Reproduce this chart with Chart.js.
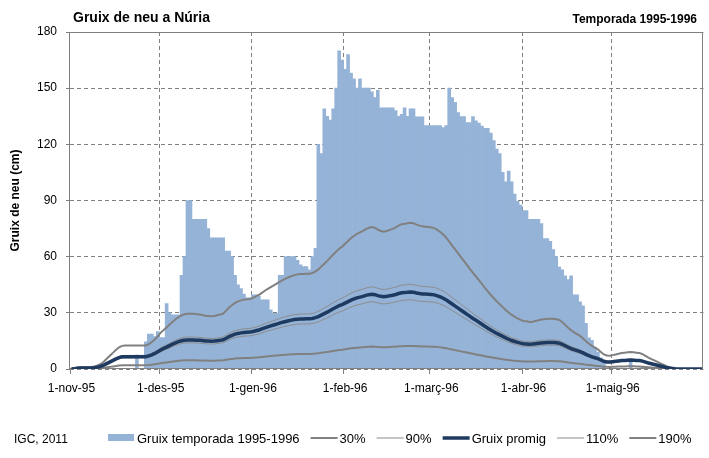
<!DOCTYPE html>
<html>
<head>
<meta charset="utf-8">
<script src="https://cdn.jsdelivr.net/npm/chart.js@4.4.1/dist/chart.umd.min.js"></script>
<style>
  html, body { margin: 0; padding: 0; background: #fff; }
</style>
</head>
<body>
<canvas id="gruixChart" width="709" height="458"></canvas>
<script>
// month names used for the daily categories (1-nov-95 ... 31-maig-96)
const monthNames = ['nov-95', 'des-95', 'gen-96', 'feb-96', 'març-96', 'abr-96', 'maig-96'];
const monthDays = [30, 31, 31, 29, 31, 30, 31];
const yTicks = [0, 30, 60, 90, 120, 150, 180];

// daily snow depth, season 1995-1996 (cm), one line per month
const gruixTemporada = [
  0,0,0,0,0,0,0,0,0,0, 0,0,0,0,0,0,0,0,0,0, 0,0,7.5,0,0,14.5,18.7,18.7,17.3,20,
  16.8,16.8,35,30,29,29,29,50,60,90, 90,80,80,80,80,80,75,70,70,70, 70,70,63,63,60,50,45,43,40,38, 38,
  39.6,39.6,39,37,37,37,31.6,29.8,29.8,50, 50,60,60,60,60,58,55.6,54.7,54.7,53, 60,64.5,120,115,139,135,133,139,150,170, 165,
  160,168,158,155,150,155,150,150,150,148, 145,148.8,139.5,139.5,139.5,139.5,139.5,138,135,136, 139.5,135,139,139,134.7,134.7,134.7,130,130,
  130,130,130,130,129,130,150,145,142.5,137, 134.8,134.8,131.6,131.6,134.8,132.5,131.3,129.8,128.6,128.6, 126,122,117.5,115,105,100,105.7,100,93.4,89.6, 87.5,
  84.6,84.6,80,80,80,80,77.7,69.6,69.6,68.2, 63.8,60,54.5,53,49.8,47.7,49.8,39.6,39.6,35.9, 33.7,24.4,16.6,15.3,11.5,9,6,4,0,0,
  0,0,0,0,0,0,4.5,0,0,0, 1,1,0,0,0,0,0,0,0,0, 0,0,0,0,0,0,0,0,0,0, 0
];

// average daily snow depth (cm)
const gruixPromig = [
  0,0.2,0.4,0.5,0.5,0.5,0.5,0.6,0.8,1.1, 1.5,2.2,3.0,3.8,4.6,5.4,6.1,6.5,6.6,6.6, 6.6,6.6,6.6,6.6,6.6,6.6,7.0,7.6,8.3,9.2,
  10.2,11.0,11.7,12.5,13.3,14.0,14.6,15.1,15.4,15.5, 15.5,15.5,15.4,15.3,15.2,15.0,14.9,14.8,14.9,15.1, 15.3,15.6,16.4,17.3,18.0,18.6,19.0,19.3,19.5,19.6, 19.7,
  20.0,20.4,20.8,21.4,22.0,22.5,23.0,23.5,24.0,24.5, 25.0,25.4,25.8,26.1,26.4,26.6,26.7,26.7,26.8,26.8, 27.0,27.4,28.0,28.8,29.6,30.4,31.3,32.2,33.0,33.8, 34.4,
  35.2,36.0,36.8,37.4,38.0,38.4,38.8,39.3,39.7,39.9, 39.7,39.2,38.8,38.6,38.8,39.1,39.4,39.8,40.3,40.7, 40.8,41.0,41.1,41.0,40.6,40.3,40.1,40.0,39.9,
  39.8,39.6,39.1,38.5,37.8,36.9,35.8,34.7,33.6,32.5, 31.4,30.3,29.2,28.1,27.0,26.0,25.0,23.9,22.8,21.8, 20.8,19.9,19.0,18.2,17.4,16.6,15.9,15.2,14.7,14.2, 13.8,
  13.5,13.4,13.2,13.3,13.5,13.7,13.9,14.0,14.1,14.1, 14.1,14.0,13.8,13.2,12.4,11.6,10.9,10.3,9.8,9.3, 8.6,7.8,7.1,6.5,6.0,5.5,4.8,4.1,3.8,3.7,
  3.9,4.1,4.3,4.5,4.6,4.7,4.8,4.7,4.6,4.5, 4.2,3.7,3.2,2.8,2.4,2.0,1.6,1.2,0.8,0.5, 0.3,0.1,0,0,0,0,0,0,0,0, 0
];

// the percentage curves are defined in the legend as fractions of the average
const percentatges = [0.3, 0.9, 1.1, 1.9];

let labels = [];
let monthStarts = [];
for (let m = 0; m < monthNames.length; m++) {
  monthStarts.push(labels.length);
  for (let d = 1; d <= monthDays[m]; d++) {
    labels.push(d + '-' + monthNames[m]);
  }
}

function scaled(p) {
  return gruixPromig.map(v => Math.round(v * p * 100) / 100);
}

const GRID = '#808080';
Chart.defaults.font.family = "'Liberation Sans', Arial, sans-serif";
Chart.defaults.font.size = 12;
Chart.defaults.color = '#000';

const datasets = [
  { type: 'bar', label: 'Gruix temporada 1995-1996', data: gruixTemporada, backgroundColor: '#95B3D7',
    borderWidth: 0, barPercentage: 1, categoryPercentage: 1, order: 6 },
  { type: 'line', label: '30%', data: scaled(percentatges[0]), borderColor: '#808080', borderWidth: 2, order: 5 },
  { type: 'line', label: '90%', data: scaled(percentatges[1]), borderColor: '#8c8c8c', borderWidth: 1, order: 4 },
  { type: 'line', label: 'Gruix promig', data: gruixPromig, borderColor: '#1F3A60', borderWidth: 3.5, order: 1 },
  { type: 'line', label: '110%', data: scaled(percentatges[2]), borderColor: '#8c8c8c', borderWidth: 1, order: 3 },
  { type: 'line', label: '190%', data: scaled(percentatges[3]), borderColor: '#808080', borderWidth: 2, order: 2 }
];

// frame around the plot area, drawn just after the bars
const frame = {
  id: 'frame',
  afterDatasetDraw(chart, args) {
    if (args.meta.type !== 'bar') return;
    const a = chart.chartArea, ctx = chart.ctx;
    ctx.save();
    ctx.strokeStyle = GRID;
    ctx.lineWidth = 1;
    ctx.strokeRect(Math.round(a.left) - 0.5, Math.round(a.top) + 0.5,
      Math.round(a.right - a.left), Math.round(a.bottom - a.top) - 1);
    ctx.restore();
  }
};

// titles, source note and legend
const texts = {
  id: 'texts',
  afterDraw(chart) {
    const ctx = chart.ctx, a = chart.chartArea;
    ctx.save();
    ctx.fillStyle = '#000';
    ctx.textBaseline = 'alphabetic';

    ctx.font = "bold 14px 'Liberation Sans', Arial, sans-serif";
    ctx.textAlign = 'left';
    ctx.fillText('Gruix de neu a Núria', 73, 22);

    ctx.font = "bold 12px 'Liberation Sans', Arial, sans-serif";
    ctx.textAlign = 'right';
    ctx.fillText('Temporada 1995-1996', 697, 23);

    ctx.save();
    ctx.translate(19, (a.top + a.bottom) / 2);
    ctx.rotate(-Math.PI / 2);
    ctx.textAlign = 'center';
    ctx.fillText('Gruix de neu (cm)', 0, 0);
    ctx.restore();

    ctx.font = "12px 'Liberation Sans', Arial, sans-serif";
    ctx.textAlign = 'left';
    ctx.fillText('IGC, 2011', 14, 443);

    // legend row
    ctx.font = "13px 'Liberation Sans', Arial, sans-serif";
    ctx.textBaseline = 'middle';
    let x = 108;
    const y = 438;
    chart.data.datasets.forEach(ds => {
      if (ds.type === 'bar') {
        ctx.fillStyle = ds.backgroundColor;
        ctx.fillRect(x, y - 4, 26, 7);
      } else {
        ctx.strokeStyle = ds.borderColor;
        ctx.lineWidth = ds.borderWidth;
        ctx.beginPath();
        ctx.moveTo(x, y);
        ctx.lineTo(x + 27, y);
        ctx.stroke();
      }
      ctx.fillStyle = '#000';
      ctx.fillText(ds.label, x + 29, y + 1);
      x += 29 + ctx.measureText(ds.label).width + 11;
    });
    ctx.restore();
  }
};

new Chart(document.getElementById('gruixChart'), {
  data: { labels: labels, datasets: datasets },
  options: {
    responsive: false,
    animation: false,
    layout: { padding: { top: 32, right: 2, left: 0, bottom: 0 } },
    elements: { point: { radius: 0 }, line: { tension: 0 } },
    plugins: {
      legend: { display: false },
      title: { display: false },
      tooltip: { enabled: false }
    },
    scales: {
      x: {
        type: 'category',
        offset: true,
        afterFit: scale => { scale.height = 89; },
        grid: {
          offset: true,
          color: c => (c.index > 0 && monthStarts.includes(c.index)) ? GRID : 'rgba(0,0,0,0)',
          tickColor: c => monthStarts.includes(c.index) ? GRID : 'rgba(0,0,0,0)',
          tickLength: 5
        },
        border: { display: false, dash: [4, 3] },
        ticks: {
          autoSkip: false,
          maxRotation: 0,
          padding: 7,
          callback: (val, i) => monthStarts.includes(i) ? labels[i] : ''
        }
      },
      y: {
        min: yTicks[0],
        max: yTicks[yTicks.length - 1],
        afterFit: scale => { scale.width = 70; },
        afterBuildTicks: scale => { scale.ticks = yTicks.map(v => ({ value: v })); },
        grid: { color: GRID, tickLength: 4 },
        border: { display: false, dash: [4, 3] },
        ticks: { padding: 9 }
      }
    }
  },
  plugins: [frame, texts]
});
</script>
</body>
</html>
